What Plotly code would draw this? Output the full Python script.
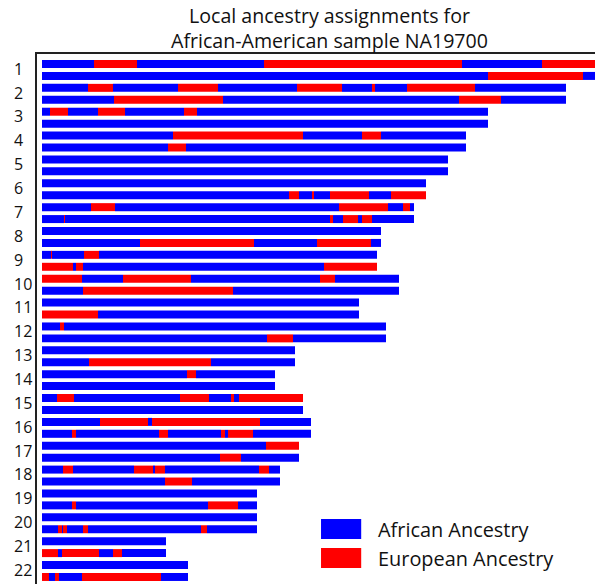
import plotly.graph_objects as go

# ---------------- data ----------------
chromosomes = [str(i) for i in range(1, 23)]
ancestry_names = {"A": "African Ancestry", "E": "European Ancestry"}
ancestry_colors = {"A": "#0000ff", "E": "#ff0000"}

# Each haplotype: consecutive segments (segment end position, ancestry); first segment starts at 0.
# A = African, E = European.  Positions in scaled genome units.
chr1 = [[(26, "A"), (47.5, "E"), (111, "A"), (210, "E"), (250, "A"), (284, "E")],
        [(223, "A"), (270.5, "E"), (284, "A")]]
chr2 = [[(23, "A"), (35.5, "E"), (68, "A"), (88, "E"), (127.5, "A"), (150, "E"), (165, "A"),
         (166.5, "E"), (182.5, "A"), (216.5, "E"), (262, "A")],
        [(36, "A"), (90.5, "E"), (208.5, "A"), (229.5, "E"), (262, "A")]]
chr3 = [[(4, "A"), (13, "E"), (28, "A"), (41.5, "E"), (71, "A"), (77.5, "E"), (223, "A")],
        [(223, "A")]]
chr4 = [[(65.5, "A"), (130.5, "E"), (160, "A"), (169.5, "E"), (212, "A")],
        [(63, "A"), (72, "E"), (212, "A")]]
chr5 = [[(203, "A")],
        [(203, "A")]]
chr6 = [[(192, "A")],
        [(123.5, "A"), (128.5, "E"), (135, "A"), (136, "E"), (144, "A"), (163.5, "E"),
         (174.5, "A"), (192, "E")]]
chr7 = [[(24.5, "A"), (36.5, "E"), (148.5, "A"), (173, "E"), (180.5, "A"), (184, "E"), (186, "A")],
        [(11, "A"), (11.5, "E"), (144, "A"), (145.5, "E"), (150.5, "A"), (158, "E"), (160, "A"),
         (165, "E"), (186, "A")]]
chr8 = [[(169.5, "A")],
        [(49, "A"), (106, "E"), (137.5, "A"), (164.5, "E"), (169.5, "A")]]
chr9 = [[(4.5, "A"), (5, "E"), (21, "A"), (28.5, "E"), (167.5, "A")],
        [(15.5, "E"), (17, "A"), (20.5, "E"), (141, "A"), (167.5, "E")]]
chr10 = [[(20, "E"), (40.5, "A"), (74.5, "E"), (139, "A"), (146.5, "E"), (178.5, "A")],
         [(20.5, "A"), (95.5, "E"), (178.5, "A")]]
chr11 = [[(158.5, "A")],
         [(28, "E"), (158.5, "A")]]
chr12 = [[(9, "A"), (11, "E"), (172, "A")],
         [(112.5, "A"), (125.5, "E"), (172, "A")]]
chr13 = [[(126.5, "A")],
         [(23.5, "A"), (84.5, "E"), (126.5, "A")]]
chr14 = [[(72.5, "A"), (77, "E"), (116.5, "A")],
         [(116.5, "A")]]
chr15 = [[(7.5, "A"), (16, "E"), (69, "A"), (83.5, "E"), (94.5, "A"), (96, "E"), (98.5, "A"),
          (130.5, "E")],
         [(130.5, "A")]]
chr16 = [[(29, "A"), (53, "E"), (55, "A"), (109, "E"), (134.5, "A")],
         [(15, "A"), (17, "E"), (58.5, "A"), (63, "E"), (89.5, "A"), (91.5, "E"), (93, "A"),
          (105.5, "E"), (134.5, "A")]]
chr17 = [[(112, "A"), (128.5, "E")],
         [(89, "A"), (99.5, "E"), (128.5, "A")]]
chr18 = [[(10.5, "A"), (15.5, "E"), (46, "A"), (55.5, "E"), (56.5, "A"), (61.5, "E"),
          (108.5, "A"), (113.5, "E"), (119, "A")],
         [(61.5, "A"), (75, "E"), (119, "A")]]
chr19 = [[(107.5, "A")],
         [(15, "A"), (17, "E"), (83, "A"), (98, "E"), (107.5, "A")]]
chr20 = [[(107.5, "A")],
         [(8, "A"), (10, "E"), (10.5, "A"), (12.5, "E"), (20.5, "A"), (23, "E"), (79.5, "A"),
          (82.5, "E"), (107.5, "A")]]
chr21 = [[(62, "A")],
         [(8, "E"), (10, "A"), (28.5, "E"), (35.5, "A"), (40, "E"), (62, "A")]]
chr22 = [[(73, "A")],
         [(3.5, "E"), (6.5, "A"), (8.5, "E"), (20, "A"), (59.5, "E"), (73, "A")]]

haplotypes = [chr1, chr2, chr3, chr4, chr5, chr6, chr7, chr8, chr9, chr10, chr11,
              chr12, chr13, chr14, chr15, chr16, chr17, chr18, chr19, chr20, chr21, chr22]

title_text = "Local ancestry assignments for<br>African-American sample NA19700"

# ---------------- build bars ----------------
seg = {"A": {"base": [], "len": [], "y": []}, "E": {"base": [], "len": [], "y": []}}
for ci, chrom in enumerate(haplotypes):
    for hi, hap in enumerate(chrom):
        row = 2 * ci + hi
        start = 0
        for end, anc in hap:
            seg[anc]["base"].append(start)
            seg[anc]["len"].append(end - start)
            seg[anc]["y"].append(row)
            start = end

fig = go.Figure()
for anc in ["A", "E"]:
    fig.add_trace(go.Bar(
        orientation="h",
        base=seg[anc]["base"], x=seg[anc]["len"], y=seg[anc]["y"],
        width=0.67,
        marker=dict(color=ancestry_colors[anc], line=dict(width=0)),
        name=ancestry_names[anc],
        showlegend=False,
    ))

# chromosome labels
annotations = []
for ci, lab in enumerate(chromosomes):
    annotations.append(dict(
        text=lab, xref="paper", x=-0.0448, xanchor="left",
        yref="y", y=2 * ci + 0.4, yanchor="middle",
        showarrow=False, font=dict(family="Open Sans", size=16, color="#111"),
    ))

# title
annotations.append(dict(
    text=title_text, xref="paper", x=0.525, xanchor="center",
    yref="paper", y=1.0 - 1.5 / 530, yanchor="bottom", showarrow=False,
    font=dict(family="Open Sans", size=19.6, color="#111"),
))

# legend (swatches + text)
shapes = []
legend_items = [("A", 0.1226, 0.0849), ("E", 0.0679, 0.0302)]
for anc, ytop, ybot in legend_items:
    shapes.append(dict(type="rect", xref="paper", yref="paper",
                       x0=0.509, x1=0.581, y0=ybot, y1=ytop,
                       fillcolor=ancestry_colors[anc], line=dict(width=0)))
    annotations.append(dict(
        text=ancestry_names[anc], xref="paper", x=0.6075, xanchor="left",
        yref="paper", y=(ytop + ybot) / 2, yanchor="middle", showarrow=False,
        font=dict(family="Open Sans", size=19.9, color="#111"),
    ))

fig.update_layout(
    width=595, height=584,
    margin=dict(l=37, r=0, t=54, b=0),
    paper_bgcolor="white", plot_bgcolor="white",
    barmode="overlay",
    xaxis=dict(range=[-2.5, 276.5], showgrid=False, zeroline=False, showticklabels=False,
               ticks="", showline=True, side="top", linecolor="#222", linewidth=2),
    yaxis=dict(range=[43.59, -0.838], showgrid=False, zeroline=False, showticklabels=False,
               ticks="", showline=True, linecolor="#222", linewidth=2),
    annotations=annotations,
    shapes=shapes,
)

fig.write_html("out.html", config={"displayModeBar": False},
               post_script="document.body.style.margin='0';")
